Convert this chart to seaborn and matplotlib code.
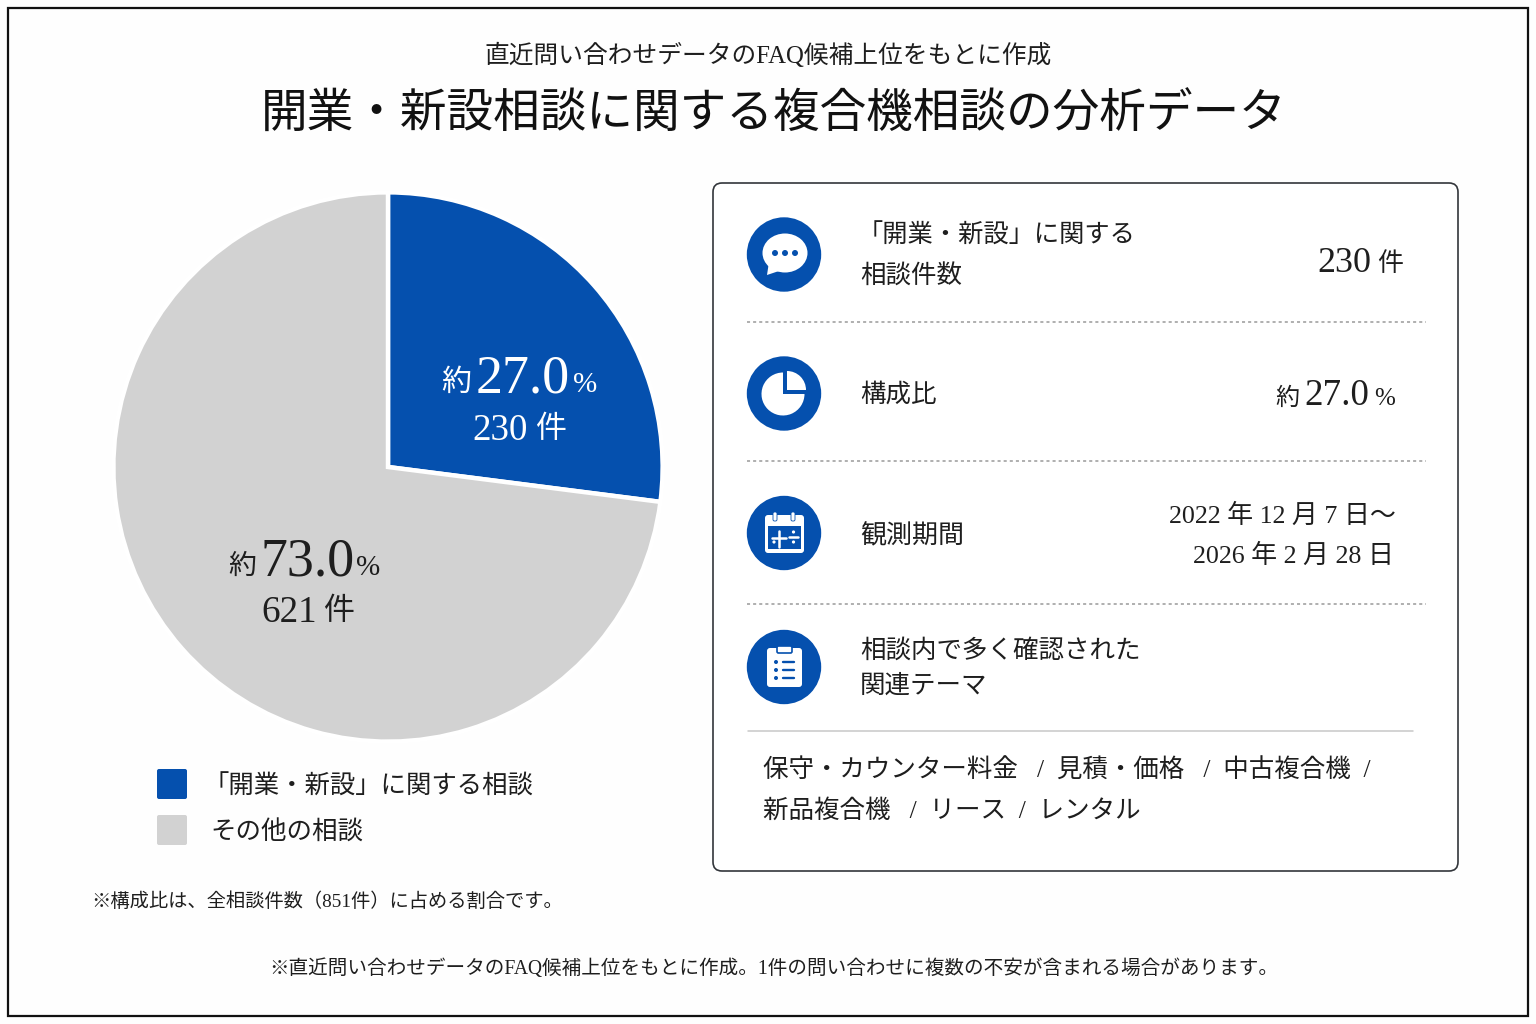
import matplotlib
matplotlib.use("Agg")
import matplotlib.pyplot as plt
from matplotlib.patches import Circle, Ellipse, FancyBboxPatch, Polygon, Rectangle, Wedge
import seaborn as sns

# Consultation counts
categories = ["「開業・新設」に関する相談", "その他の相談"]
counts = [230, 621]
total = 851
series_colors = ["#0550AE", "#D2D2D2"]
period_lines = ["2022 年 12 月 7 日～", "2026 年 2 月 28 日"]
theme_lines = ["保守・カウンター料金   /  見積・価格   /  中古複合機  /", "新品複合機   /  リース  /  レンタル"]

sns.set_theme(style="white")
plt.rcParams["font.family"] = ["Liberation Serif", "Noto Sans CJK JP", "DejaVu Sans"]

W, H = 1536, 1024
INK = "#1E1E1E"
BLUE = series_colors[0]
palette = sns.color_palette(series_colors)
shares = [c / total * 100 for c in counts]

fig = plt.figure(figsize=(W / 100, H / 100), dpi=100, facecolor="#FEFEFE")

# Overlay in pixel coordinates for the frame, panel and text
ov = fig.add_axes([0, 0, 1, 1], zorder=1)
ov.set_xlim(0, W)
ov.set_ylim(H, 0)
ov.axis("off")
ov.patch.set_alpha(0)


def txt(x, y, s, px, color=INK, ha="left", **kw):
    # Text is centred a little high for this font pairing, so nudge it down
    return ov.text(x, y + 3, s, fontsize=px * 0.72, color=color, ha=ha, va="center", **kw)


ov.add_patch(Rectangle((8, 8), 1520, 1008, fill=False, ec="#111111", lw=1.6))

txt(768, 52, "直近問い合わせデータのFAQ候補上位をもとに作成", 24.7, ha="center")
txt(774, 113, "開業・新設相談に関する複合機相談の分析データ", 46.7, color="#111111", ha="center")

# Pie chart of the two shares
pie_ax = fig.add_axes([(388 - 276) / W, 1 - (467 + 276) / H, 552 / W, 552 / H], zorder=0)
pie_ax.pie(counts, colors=palette, startangle=90, counterclock=False, radius=1.0,
           wedgeprops={"edgecolor": "white", "linewidth": 3.2})
pie_ax.set_xlim(-1.005, 1.005)
pie_ax.set_ylim(-1.005, 1.005)

# Slice labels
txt(441, 380, "約", 30, color="white")
txt(476, 376, f"{shares[0]:.1f}", 54, color="white")
txt(573, 382, "%", 29, color="white")
txt(472, 428, f"{counts[0]}", 37, color="white")
txt(535, 428, "件", 31, color="white")

txt(228, 564, "約", 28)
txt(260, 559, f"{shares[1]:.1f}", 54)
txt(356, 565, "%", 29)
txt(261, 610, f"{counts[1]}", 37)
txt(323, 610, "件", 31)

# Legend swatches
for y, c, label, x, size in zip([784, 830], series_colors, categories, [203, 210], [25.4, 25.5]):
    ov.add_patch(FancyBboxPatch((157, y - 15), 30, 30, boxstyle="round,pad=0,rounding_size=2",
                                fc=c, ec="none"))
    txt(x, y, label, size)

txt(91, 899, f"※構成比は、全相談件数（{total}件）に占める割合です。", 19.3)
txt(774, 966, "※直近問い合わせデータのFAQ候補上位をもとに作成。1件の問い合わせに複数の不安が含まれる場合があります。", 19.6, ha="center")

# Summary panel
ov.add_patch(FancyBboxPatch((713, 183), 745, 688, boxstyle="round,pad=0,rounding_size=9",
                            fc="#FFFFFF", ec="#33363B", lw=1.2))
for y in [322, 461, 604]:
    ov.plot([747, 1426], [y, y], color="#9A9A9A", lw=1.1, ls=(0, (2, 2)))
ov.plot([748, 1413], [731, 731], color="#C8C8C8", lw=1.1)

# Row icons
for cy in [254.5, 393.5, 533, 667]:
    ov.add_patch(Circle((784, cy), 37.2, fc=BLUE, ec="none"))

ov.add_patch(Ellipse((785, 253), 45, 39, fc="white", ec="none"))
ov.add_patch(Polygon([(769, 262), (767, 275), (782, 270)], fc="white", ec="none"))
for x in [775, 785, 795]:
    ov.add_patch(Circle((x, 253), 3, fc=BLUE, ec="none"))

# The overlay's y axis points down, so wedge angles run clockwise on screen
ov.add_patch(Wedge((783, 394), 21.5, 0, 270, fc="white", ec="none"))
ov.add_patch(Wedge((787, 390), 19, 270, 360, fc="white", ec="none"))

ov.add_patch(FancyBboxPatch((765, 515), 39, 38, boxstyle="round,pad=0,rounding_size=3", fc="white", ec="none"))
ov.add_patch(Rectangle((768, 526), 33, 23, fc=BLUE, ec="none"))
for x in [775, 793]:
    ov.add_patch(FancyBboxPatch((x - 2, 512), 4, 9, boxstyle="round,pad=0,rounding_size=1.5",
                                fc="white", ec=BLUE, lw=0.6))
ov.plot([772, 786], [538, 538], color="white", lw=1.8)
ov.plot([779, 779], [531, 547], color="white", lw=1.8)
ov.plot([789, 798], [537, 537], color="white", lw=1.8)
for x, y in [(793.5, 532), (793.5, 542), (774, 542)]:
    ov.add_patch(Circle((x, y), 1.6, fc="white", ec="none"))

ov.add_patch(FancyBboxPatch((767, 648), 35, 39, boxstyle="round,pad=0,rounding_size=3", fc="white", ec="none"))
ov.add_patch(FancyBboxPatch((777, 646), 15, 7, boxstyle="round,pad=0,rounding_size=1.5", fc="white", ec=BLUE, lw=1.2))
for y in [662, 670, 678]:
    ov.add_patch(Circle((776, y), 2, fc=BLUE, ec="none"))
    ov.plot([783, 794], [y, y], color=BLUE, lw=1.7)

# Row text
txt(858, 233, "「開業・新設」に関する", 25.3)
txt(860, 274, "相談件数", 25.5)
txt(1371, 260, f"{counts[0]}", 36, ha="right")
txt(1377, 261, "件", 26)

txt(860, 392, "構成比", 25.5)
txt(1275, 396, "約", 24)
txt(1369, 393, f"{shares[0]:.1f}", 37, ha="right")
txt(1374, 396, "%", 25)

txt(860, 533, "観測期間", 26)
txt(1396, 513, period_lines[0], 26, ha="right")
txt(1394, 553, period_lines[1], 26, ha="right")

txt(860, 648, "相談内で多く確認された", 25.5)
txt(860, 683, "関連テーマ", 25.5)
txt(763, 768, theme_lines[0], 25.5)
txt(763, 808, theme_lines[1], 25.5)

fig.savefig("out.png", dpi=100, facecolor=fig.get_facecolor())
